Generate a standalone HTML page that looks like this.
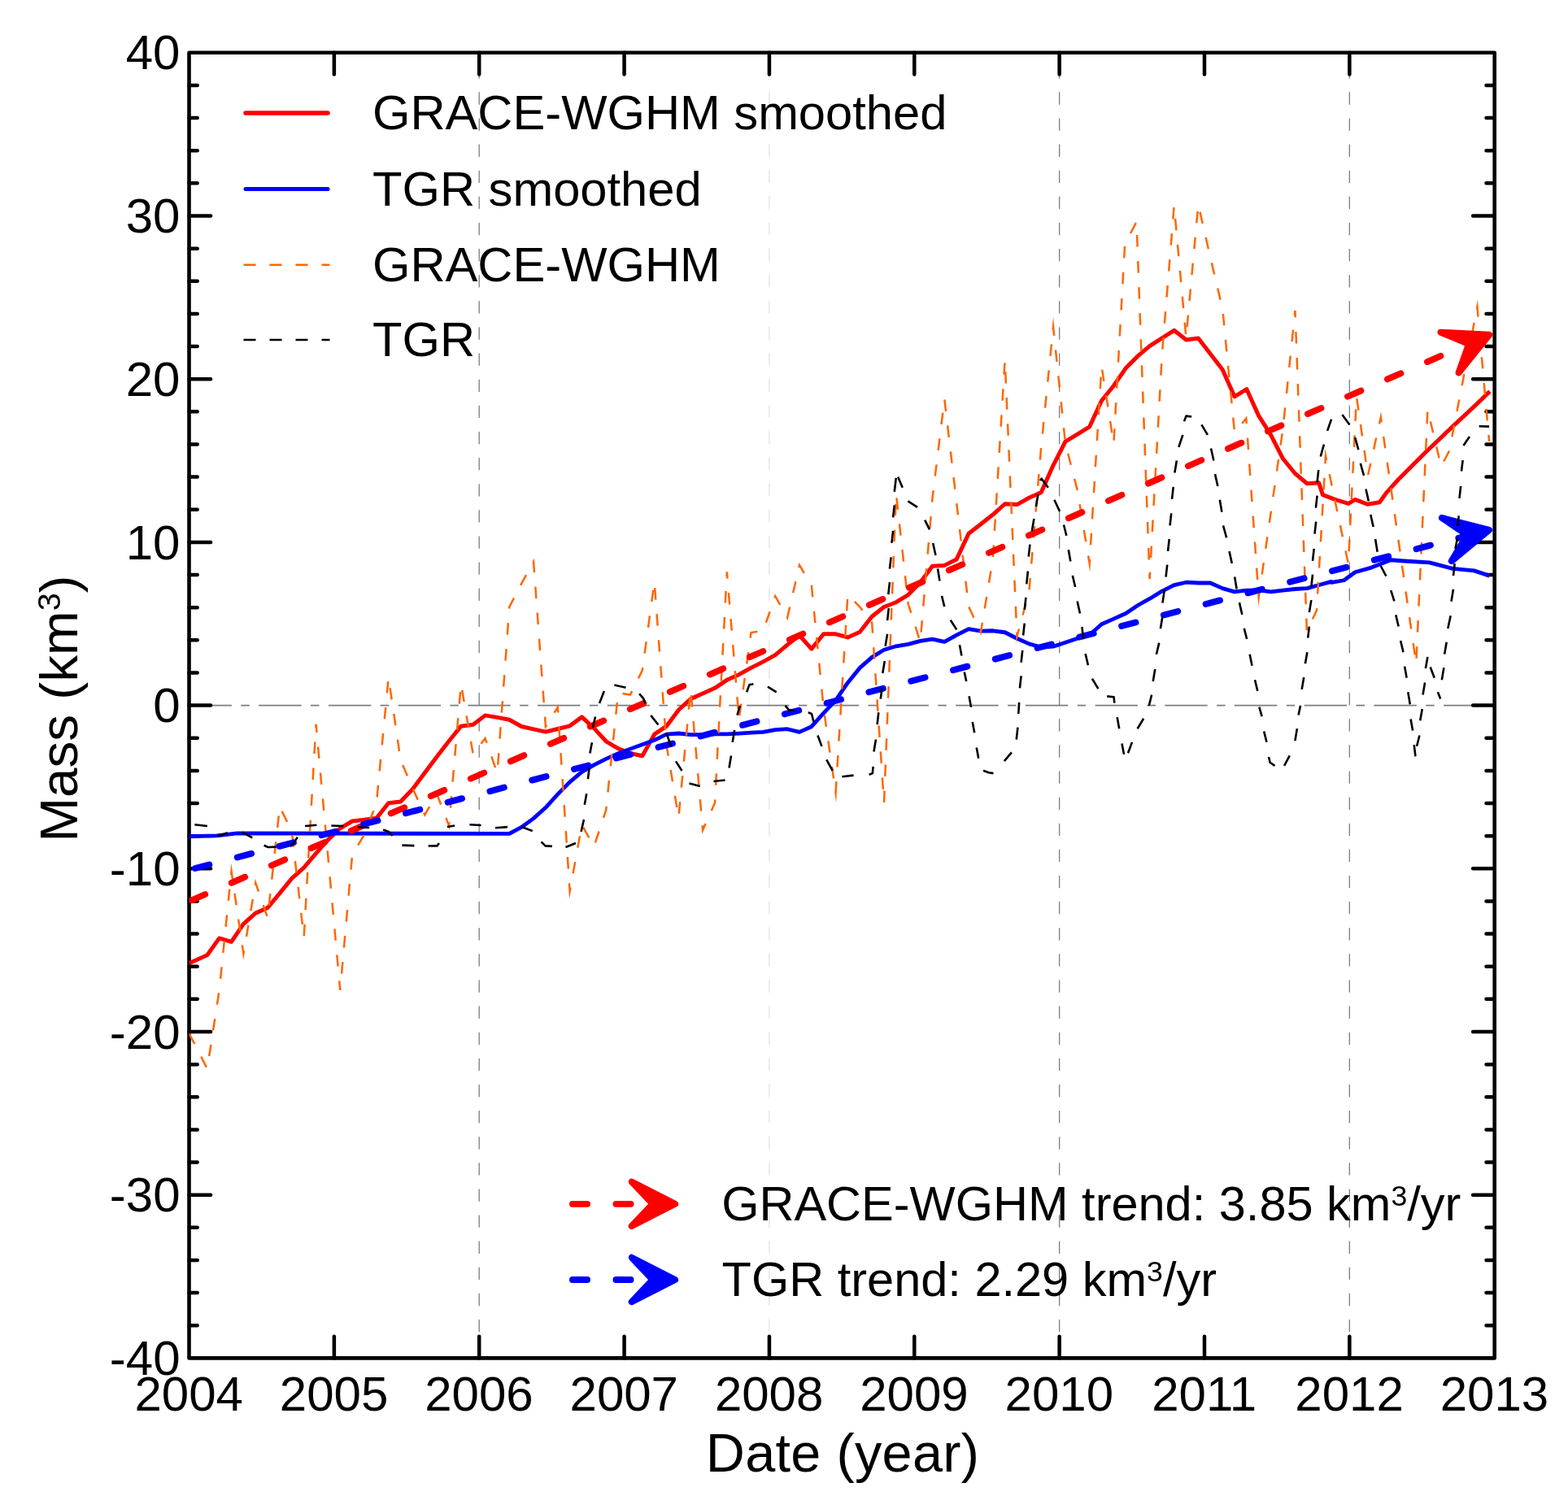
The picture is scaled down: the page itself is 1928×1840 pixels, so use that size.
<!DOCTYPE html>
<html lang="en"><head><meta charset="utf-8"><title>Mass (km³) vs Date (year)</title>
<style>html,body{margin:0;padding:0;background:#fff}svg{display:block}text{font-family:"Liberation Sans",Arial,Helvetica,sans-serif;fill:#000}</style>
</head><body>
<svg xmlns="http://www.w3.org/2000/svg" width="1928" height="1840" viewBox="0 0 1928 1840">
<rect width="1928" height="1840" fill="#fff"/>
<g id="grid" fill="none" stroke="#7d7d7d" stroke-width="1.3">
<line x1="945.92" y1="1670.4" x2="945.92" y2="64.8" stroke="#dadada" stroke-width="1" stroke-dasharray="16 16.12"/>
<line x1="589.21" y1="1670.4" x2="589.21" y2="64.8" stroke-dasharray="15.3 16.82"/>
<line x1="1302.63" y1="1670.4" x2="1302.63" y2="64.8" stroke-dasharray="15.3 16.82"/>
<line x1="1659.34" y1="1670.4" x2="1659.34" y2="64.8" stroke-dasharray="15.3 16.82"/>
<line x1="232.5" y1="867.6" x2="1837.7" y2="867.6" stroke-width="1.6" stroke-dasharray="52.4 11.4 10.5 11.4"/>
</g>
<g id="axes" stroke="#000" fill="none" stroke-linecap="butt">
<rect x="232.5" y="64.8" width="1605.2" height="1605.6" stroke-width="4.6" stroke-linejoin="round"/>
<path d="M410.86 64.8v26.6M410.86 1670.4v-26.6M589.21 64.8v26.6M589.21 1670.4v-26.6M767.57 64.8v26.6M767.57 1670.4v-26.6M945.92 64.8v26.6M945.92 1670.4v-26.6M1124.28 64.8v26.6M1124.28 1670.4v-26.6M1302.63 64.8v26.6M1302.63 1670.4v-26.6M1480.99 64.8v26.6M1480.99 1670.4v-26.6M1659.34 64.8v26.6M1659.34 1670.4v-26.6M232.5 1630.26h10.2M1837.7 1630.26h-10.2M232.5 1590.12h10.2M1837.7 1590.12h-10.2M232.5 1549.98h10.2M1837.7 1549.98h-10.2M232.5 1509.84h10.2M1837.7 1509.84h-10.2M232.5 1469.7h26.6M1837.7 1469.7h-26.6M232.5 1429.56h10.2M1837.7 1429.56h-10.2M232.5 1389.42h10.2M1837.7 1389.42h-10.2M232.5 1349.28h10.2M1837.7 1349.28h-10.2M232.5 1309.14h10.2M1837.7 1309.14h-10.2M232.5 1269h26.6M1837.7 1269h-26.6M232.5 1228.86h10.2M1837.7 1228.86h-10.2M232.5 1188.72h10.2M1837.7 1188.72h-10.2M232.5 1148.58h10.2M1837.7 1148.58h-10.2M232.5 1108.44h10.2M1837.7 1108.44h-10.2M232.5 1068.3h26.6M1837.7 1068.3h-26.6M232.5 1028.16h10.2M1837.7 1028.16h-10.2M232.5 988.02h10.2M1837.7 988.02h-10.2M232.5 947.88h10.2M1837.7 947.88h-10.2M232.5 907.74h10.2M1837.7 907.74h-10.2M232.5 867.6h26.6M1837.7 867.6h-26.6M232.5 827.46h10.2M1837.7 827.46h-10.2M232.5 787.32h10.2M1837.7 787.32h-10.2M232.5 747.18h10.2M1837.7 747.18h-10.2M232.5 707.04h10.2M1837.7 707.04h-10.2M232.5 666.9h26.6M1837.7 666.9h-26.6M232.5 626.76h10.2M1837.7 626.76h-10.2M232.5 586.62h10.2M1837.7 586.62h-10.2M232.5 546.48h10.2M1837.7 546.48h-10.2M232.5 506.34h10.2M1837.7 506.34h-10.2M232.5 466.2h26.6M1837.7 466.2h-26.6M232.5 426.06h10.2M1837.7 426.06h-10.2M232.5 385.92h10.2M1837.7 385.92h-10.2M232.5 345.78h10.2M1837.7 345.78h-10.2M232.5 305.64h10.2M1837.7 305.64h-10.2M232.5 265.5h26.6M1837.7 265.5h-26.6M232.5 225.36h10.2M1837.7 225.36h-10.2M232.5 185.22h10.2M1837.7 185.22h-10.2M232.5 145.08h10.2M1837.7 145.08h-10.2M232.5 104.94h10.2M1837.7 104.94h-10.2" stroke-width="4.5" stroke-linecap="round"/>
</g>
<defs><clipPath id="plotclip"><rect x="232.5" y="64.8" width="1605.2" height="1605.6"/></clipPath></defs>
<g id="curves" fill="none" clip-path="url(#plotclip)">
<path id="cR" d="M232.5 1184.68L254.79 1174.7L269.65 1153.91L284.51 1158.4L299.37 1136.44L314.24 1123.14L329.1 1116.49L343.96 1098.63L358.82 1080.33L373.68 1067.03L388.54 1049.56L403.4 1032.93L418.26 1018.79L433.12 1009.98L447.98 1008.32L462.85 1006.32L477.71 987.69L492.57 986.03L507.43 970.56L522.29 950.6L537.15 930.64L552.01 911.48L566.87 893.18L581.73 891.19L596.59 879.88L611.46 882.37L626.32 885.2L641.18 893.51L656.04 896.84L670.9 900.17L685.76 896.51L700.62 892.85L715.48 881.87L730.34 895.68L745.2 911.81L760.07 920.62L774.93 926.44L789.79 929.77L804.65 903.16L819.51 893.18L834.37 873.22L849.23 859.63L864.09 852.97L878.95 846.32L893.81 836.34L908.68 829.69L923.54 821.37L938.4 813.89L953.26 805.57L968.12 793.1L982.98 781.46L997.84 798.09L1012.7 779.79L1027.56 779.79L1042.42 783.95L1057.29 777.3L1072.15 758.17L1087.01 746.53L1101.87 740.71L1116.73 731.56L1131.59 716.59L1146.45 696.22L1161.31 695.38L1176.17 687.9L1191.03 656.34L1205.9 644.7L1220.76 633.06L1235.62 619.75L1250.48 620.58L1265.34 612.27L1280.2 605.61L1295.06 572.35L1309.92 543.24L1324.78 534.1L1339.64 524.95L1354.51 492.77L1369.37 474.47L1384.23 452.85L1399.09 437.88L1413.95 425.41L1428.81 415.93L1443.67 406.28L1458.53 417.92L1473.39 415.93L1488.25 435.22L1503.12 454.51L1517.98 487.78L1532.84 478.63L1547.7 511.39L1562.56 534.89L1577.42 563.99L1592.28 582.29L1607.14 594.76L1621.51 593.64L1626.5 608.61L1641.47 614.43L1658.1 619.42L1666.41 614.43L1681.38 620.25L1696.35 617.75L1704.67 606.11L1719.64 589.48L1752.9 556.22L1786.16 524.62L1811.11 501.33L1831.9 481.37" stroke="#ff0000" stroke-width="5" stroke-linejoin="round" stroke-linecap="butt"/>
<path id="cB" d="M232.48 1028.77L266.58 1027.94L291.53 1024.95L626.32 1025.41L641.18 1017.42L656.04 1006.61L670.9 993.31L685.76 976.84L700.62 961.87L715.48 949.4L730.34 940.91L745.2 933.43L760.07 926.78L774.93 921.12L789.79 915.63L804.65 910.31L819.51 903.16L834.37 902L849.23 903.7L864.09 903.7L878.95 902.87L893.81 902.87L908.68 902.04L923.54 901.21L938.4 900.37L953.26 897.55L968.12 896.72L982.98 900.37L997.84 893.72L1012.7 877.09L1027.56 861.29L1042.42 839.67L1057.29 821.37L1072.15 808.4L1087.01 799.25L1101.87 794.76L1116.73 792.43L1131.59 788.44L1146.45 786.07L1161.31 789.4L1176.17 781.08L1191.03 773.6L1205.9 776.09L1220.76 775.76L1235.62 777.75L1250.48 785.24L1265.34 791.89L1280.2 796.05L1295.06 795.22L1309.92 790.23L1324.78 785.24L1339.64 781.08L1354.51 767.78L1369.37 761.12L1384.23 754.47L1399.09 744.49L1413.95 736.17L1428.81 727.03L1443.67 719.54L1458.53 716.22L1473.39 717.01L1488.25 717.01L1503.12 723.66L1517.98 727.82L1532.84 726.15L1547.7 725.82L1562.56 727.82L1577.42 726.15L1592.28 724.49L1607.14 723.66L1622 719.5L1636.86 715.34L1637.5 716.3L1652.5 713.75L1666.25 703.75L1686.25 698.1L1698 693.5L1710 688.75L1726.25 690L1757.5 691.9L1786.25 699.4L1812.5 701.9L1831.5 708.1" stroke="#0000ff" stroke-width="4.8" stroke-linejoin="round" stroke-linecap="butt"/>
<path id="cO" d="M232.5 1271.16L239.93 1285.14L254.79 1314.41L269.65 1217.94L284.51 1071.58L299.37 1173.04L314.24 1085.72L329.1 1128.96L343.96 992.18L358.82 1022.95L373.68 1153.01L388.54 890.73L403.4 1054.22L418.26 1217.88L433.12 1051.56L447.98 1026.28L462.85 988.02L477.71 833.35L492.57 934.8L507.43 969.73L522.29 1002.16L537.15 976.34L552.01 1015.43L566.87 841.25L581.73 927.73L596.59 908.11L611.46 951.02L626.32 746.44L641.18 717.84L656.04 690.73L670.9 893.64L685.76 869.9L700.62 1096.09L715.48 1014.59L730.34 1041.21L745.2 996.3L760.07 852.06L774.93 854.55L789.79 824.62L804.65 715.68L819.51 916.47L834.37 1005.45L849.23 847.98L864.09 1020.96L878.95 987.69L893.81 703.28L908.68 884.57L923.54 778.13L938.4 775.63L953.26 733.22L968.12 759.83L982.98 694.97L997.84 719.92L1012.7 871.27L1027.56 975.22L1042.42 731.23L1057.29 746.53L1072.15 765.65L1087.01 987.69L1101.87 607.23L1116.73 742.79L1131.59 789.69L1146.45 613.06L1161.31 490.81L1176.17 618.05L1191.03 746.11L1205.9 777.71L1220.76 687.9L1235.62 442.87L1250.48 782.74L1265.34 727.86L1280.2 549.9L1295.06 402.12L1309.92 544.91L1324.78 603.12L1339.64 692.93L1354.51 450.35L1369.37 545.74L1383.17 299.83L1397.47 272.89L1413.61 712.06L1428.81 436.22L1443.67 253.26L1458.4 415.4L1473.4 251.6L1488.2 316.5L1503.2 379.7L1518 531.6L1532.3 514.6L1547.7 734.5L1562.5 631.4L1577.4 527.9L1592.5 382L1606.9 776.4L1619 750.6L1630 561L1657.9 693.7L1668 488L1682 584.8L1697.8 513.3L1741.3 816.3L1755.4 503.8L1772 573.7L1782 554.6L1816.4 377.4L1831.1 542.9" stroke="#ff6600" stroke-width="2.5" stroke-dasharray="14.5 17.6" stroke-linejoin="miter" stroke-miterlimit="10"/>
<path id="tr" d="M232.5 1108.64L1812.95 419.79" stroke="#ff0000" stroke-width="7.8" stroke-dasharray="18 35.46" stroke-dashoffset="-3.5" stroke-linecap="round"/>
<path d="M1831.28 411.8L1771.43 408.72L1806.08 423.05L1793.6 458.4Z" fill="#ff0000" stroke="#ff0000" stroke-width="8" stroke-linejoin="round"/>
<path id="tb" d="M232.5 1069.91L1811.58 656.87" stroke="#0000ff" stroke-width="7.8" stroke-dasharray="18 35.52" stroke-dashoffset="-7.7" stroke-linecap="round"/>
<path d="M1830.93 651.81L1772.87 636.98L1804 657.86L1784.79 690.05Z" fill="#0000ff" stroke="#0000ff" stroke-width="8" stroke-linejoin="round"/>
<path id="cK" d="M239.34 1014.19L254.9 1016.06M267.35 1028.26L273.57 1026.64L279.79 1024.15M297.85 1023.53L310.29 1030.38M324.61 1039.71L329.59 1041.95L339.55 1041.58M356.98 1040.96L361.33 1036.6L365.69 1029.75M375.03 1016.06L389.34 1014.82M407.39 1015.44L422.33 1016.06M439.76 1017.3L454.08 1017.93M471.15 1020.46L477.81 1022.95L482.8 1027.94M494.44 1039.58L509.41 1040.08M526.66 1040.37L537.47 1040.37L539.97 1037.05M549.95 1017.09L559.1 1015.43M577.39 1014.26L591.53 1014.93M608.99 1018.25L623.96 1017.09M641.42 1017.09L654.73 1022.08M665.54 1035.38L670.53 1040.37L678.85 1040.87M695.48 1042.04L707.95 1037.05M714.6 1022.91L717.93 1007.94M718.76 989.65L721.26 976.34M722.92 958.05L724.58 944.74M725.42 926.44L727.91 913.14M728.74 894.84L732.07 881.54M737.06 864.91L742.88 849.94M755.35 842.45L769.49 845.78M786.12 853.26L791.11 859.09L793.61 864.91M800.26 879.88L809.41 891.52M819.39 901.5L825.21 918.13M831.03 936.42L838.51 948.07M847.45 963.58L860.76 966.9M877.39 961.08L891.53 959.42M896.52 944.45L899.01 929.48M900.68 912.85L903.17 897.88M906.5 879.58L909.82 867.94M918.14 851.31L921.47 842.16L926.46 841.33M943.92 844.66L954.73 851.31M965.54 867.94L969.7 872.93L976.35 873.76M993.81 876.26L997.97 877.92L1000.47 887.9M1005.46 904.53L1010.45 917.84M1016.27 934.47L1023.75 947.78M1035.4 955.26L1049.53 953.6M1068.66 952.77L1072.82 951.1L1073.65 942.79M1074.48 924.49L1076.98 909.52M1078.64 891.23L1080.3 876.26M1082.8 859.63L1084.46 846.32M1085.29 828.02L1087.79 813.06M1088.62 794.76L1091.11 779.79M1091.11 763.16L1092.78 748.19M1092.28 731.14L1093.94 716.17M1093.94 699.54L1095.6 685.41M1096.43 667.94L1098.1 652.97M1098.1 636.34L1099.76 621.37M1099.76 604.74L1101.76 587.78M1104.09 586.44L1109.74 599.75M1116.39 616.38L1128.04 623.87M1137.18 639.67L1143 651.31M1147.16 667.94L1150.49 682.91M1152.98 699.54L1155.48 714.51M1157.97 732.81L1161.3 746.11M1168.78 762.74L1176.27 774.39M1179.93 793.14L1182.42 806.44M1185.75 826.4L1188.24 838.05M1191.57 856.34L1194.06 869.65M1195.73 887.94L1198.22 901.25M1200.72 919.54L1203.21 932.85M1209.03 947.82L1215.69 950.31L1221.51 951.14M1234.81 936.17L1243.96 925.36M1249.78 909.56L1251.44 894.59M1252.28 877.96L1253.11 863.83M1253.94 846.36L1255.6 831.39M1255.6 814.76L1257.27 799.79M1258.1 781.5L1259.76 766.53M1259.76 749.9L1261.42 734.93M1262.26 718.3L1263.92 702.49M1264.75 684.62L1266.41 669.65M1268.91 653.01L1271.4 638.05M1273.9 623.08L1276.39 608.11M1279.05 591.14L1280.55 588.65L1288.87 599.79M1296.35 614.76L1303 628.9M1307.99 645.53L1311.32 658.84M1313.81 676.3L1316.31 690.44M1318.8 707.9L1322.13 722.04M1324.63 739.5L1327.95 754.47M1330.45 771.1L1332.11 786.07M1334.6 803.95L1337.93 818.09M1342.92 834.72L1350.41 847.19M1361.22 856.34L1369.53 857.17L1370.36 864.66M1373.69 882.12L1376.19 896.26M1379.51 914.55L1382.01 927.86M1387 926.2L1391.99 912.89M1398.64 896.26L1406.12 883.78M1412.78 867.98L1416.1 854.68M1417.77 838.05L1420.26 823.08M1421.92 804.78L1425.25 790.64M1426.91 773.18L1429.41 758.21M1429.41 741.58L1431.9 724.95M1433.57 709.56L1435.23 694.59M1436.06 677.96L1437.72 662.99M1438.56 646.36L1440.22 631.39M1441.05 613.93L1442.71 598.96M1444.38 581.5L1446.87 566.53M1449.37 549.9L1454.36 534.93M1456.02 518.3L1458.51 511.64L1465.17 512.47M1477.39 522.41L1484.88 534.89M1489.03 551.52L1492.36 566.49M1494.02 583.12L1497.35 598.09M1499.84 614.72L1502.34 629.69M1504 646.32L1508.16 661.29M1511.49 677.92L1514.81 692.89M1518.14 709.52L1520.63 724.49M1523.96 741.12L1527.29 756.09M1529.78 772.72L1533.11 786.03M1536.68 804.66L1539.51 818.79M1543 836.26L1546.33 849.9M1548.33 869.52L1551.65 881.16M1554.15 899.46L1557.47 912.77M1559.97 931.06L1561.63 937.71L1567.45 941.87M1579.1 941.87L1585.75 929.4M1592.4 911.1L1594.9 896.13M1596.56 879.5L1599.05 867.86M1600.72 847.9L1603.21 832.93M1604.88 816.3L1607.37 802.16M1608.2 784.7L1609.86 770.56M1609.86 753.1L1612.36 738.13M1612.36 721.5L1614.02 706.53M1614.02 689.9L1615.69 674.93M1616.52 656.63L1618.18 641.66M1617.93 624.7L1619.59 609.73M1619.59 593.1L1621.26 578.13M1623.75 561.5L1627.91 546.53M1632.07 529.9L1637.06 515.76M1650.36 509.94L1659.51 522.41M1666.16 538.21L1670.32 553.18M1672.82 569.81L1676.98 584.78M1679.47 601.41L1682.8 616.38M1685.29 633.01L1688.62 647.98M1691.11 662.95L1693.61 678.75M1697.77 696.22L1704.42 708.69M1710.24 726.15L1714.4 739.46M1716.31 756.42L1719.64 770.56M1722.13 788.02L1725.46 802.16M1727.12 819.63L1729.62 833.76M1731.28 851.23L1733.77 866.2M1734.6 884.49L1737.1 898.63M1738.76 916.09L1740.43 930.23M1742.09 917.75L1745.42 904.45M1746.25 886.15L1748.74 872.02M1749.57 854.55L1752.07 839.58M1752.9 822.12L1755.4 807.98M1758.72 820.46L1763.71 833.76M1767.87 851.23L1771.2 859.54M1772.86 836.26L1775.35 821.29M1776.19 804.66L1778.68 789.69M1780.34 773.06L1783.67 757.26M1784.5 739.79L1787 724.82M1787 708.19L1788.66 693.22M1789.49 674.93L1791.99 661.62M1792.48 646.86L1793.65 634.39M1794.48 612.77L1796.14 597.8M1796.98 579.5L1798.64 566.2M1799.47 547.9L1806.95 537.09M1818.6 524.28L1831.07 524.62" stroke="#000000" stroke-width="2.6" stroke-linejoin="round"/>
</g>
<g id="ylabels" font-size="60" text-anchor="end">
<text x="221.5" y="85.4">40</text>
<text x="221.5" y="286.1">30</text>
<text x="221.5" y="486.8">20</text>
<text x="221.5" y="687.5">10</text>
<text x="221.5" y="888.2">0</text>
<text x="221.5" y="1088.9">-10</text>
<text x="221.5" y="1289.6">-20</text>
<text x="221.5" y="1490.3">-30</text>
<text x="221.5" y="1691">-40</text>
</g>
<g id="xlabels" font-size="60" text-anchor="middle">
<text x="232.2" y="1734.8">2004</text>
<text x="410.56" y="1734.8">2005</text>
<text x="588.91" y="1734.8">2006</text>
<text x="767.27" y="1734.8">2007</text>
<text x="945.62" y="1734.8">2008</text>
<text x="1123.98" y="1734.8">2009</text>
<text x="1302.33" y="1734.8">2010</text>
<text x="1480.69" y="1734.8">2011</text>
<text x="1659.04" y="1734.8">2012</text>
<text x="1837.4" y="1734.8">2013</text>
</g>
<text id="xtitle" x="1036" y="1810.2" font-size="66.6" letter-spacing="0.3" text-anchor="middle">Date (year)</text>
<text id="ytitle" transform="translate(94.5 871.6) rotate(-90)" font-size="65.6" text-anchor="middle">Mass (km<tspan font-size="39.36" dy="-20.34">3</tspan><tspan dy="20.34">)</tspan></text>
<g id="legend" font-size="59.7">
<line x1="302" y1="139" x2="403" y2="139" stroke="#ff0000" stroke-width="5.5" stroke-linecap="round"/>
<text x="458" y="159">GRACE-WGHM smoothed</text>
<line x1="302" y1="232.5" x2="403" y2="232.5" stroke="#0000ff" stroke-width="5" stroke-linecap="round"/>
<text x="458" y="252.5">TGR smoothed</text>
<line x1="299.5" y1="325.75" x2="405.5" y2="325.75" stroke="#ff6600" stroke-width="2.5" stroke-dasharray="15 17"/>
<text x="458" y="345.75">GRACE-WGHM</text>
<line x1="299.5" y1="418" x2="405.5" y2="418" stroke="#000000" stroke-width="2.5" stroke-dasharray="15 17"/>
<text x="458" y="438">TGR</text>
</g>
<g id="trendlegend" font-size="59.5">
<text x="887.2" y="1501.2">GRACE-WGHM trend: 3.85 km<tspan font-size="35.7" dy="-17.85">3</tspan><tspan dy="17.85">/yr</tspan></text>
<text x="887.6" y="1594.1">TGR trend: 2.29 km<tspan font-size="35.7" dy="-17.85">3</tspan><tspan dy="17.85">/yr</tspan></text>
</g>
<g id="trendarrows"><path d="M703.9 1480.8H800" fill="none" stroke="#ff0000" stroke-width="7.8" stroke-dasharray="18.2 35.3" stroke-linecap="round"/>
<path d="M830.1 1480.8L776.7 1453.6L802.5 1480.8L776.7 1508Z" fill="#ff0000" stroke="#ff0000" stroke-width="8" stroke-linejoin="round"/>
<path d="M703.9 1574H800" fill="none" stroke="#0000ff" stroke-width="7.8" stroke-dasharray="18.2 35.3" stroke-linecap="round"/>
<path d="M830.1 1574L776.7 1546.8L802.5 1574L776.7 1601.2Z" fill="#0000ff" stroke="#0000ff" stroke-width="8" stroke-linejoin="round"/></g>
</svg>
</body></html>
